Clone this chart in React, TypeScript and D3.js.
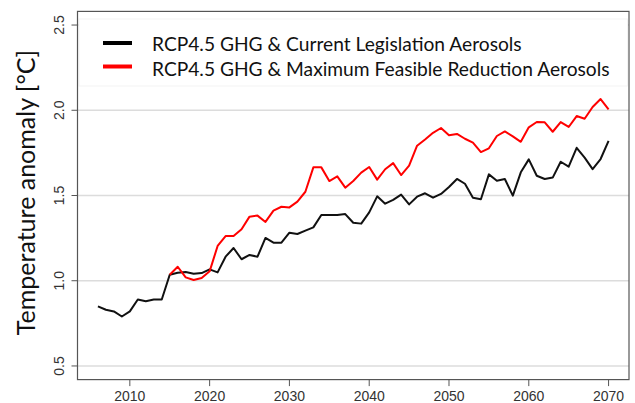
import React from 'react';
import * as d3 from 'd3';

const years = d3.range(2006, 2071);
const currentLegislation = [
  0.85, 0.83, 0.82, 0.79, 0.82, 0.89, 0.88, 0.89, 0.89, 1.035,
  1.047, 1.051, 1.041, 1.045, 1.067, 1.049, 1.141, 1.192, 1.126, 1.151,
  1.141, 1.251, 1.223, 1.223, 1.282, 1.274, 1.294, 1.313, 1.386, 1.385,
  1.386, 1.391, 1.34, 1.335, 1.401, 1.495, 1.452, 1.474, 1.505, 1.448,
  1.493, 1.513, 1.487, 1.509, 1.55, 1.597, 1.569, 1.487, 1.478, 1.624,
  1.587, 1.597, 1.499, 1.636, 1.712, 1.616, 1.597, 1.605, 1.698, 1.669,
  1.78, 1.722, 1.655, 1.714, 1.82,
];
const mfrStart = 2015;
const maxFeasible = [
  1.035, 1.082, 1.02, 1.004, 1.016, 1.055, 1.204, 1.262, 1.262, 1.302,
  1.376, 1.382, 1.345, 1.411, 1.434, 1.43, 1.464, 1.522, 1.665, 1.665,
  1.585, 1.612, 1.546, 1.585, 1.634, 1.667, 1.593, 1.654, 1.69, 1.62,
  1.675, 1.792, 1.829, 1.868, 1.896, 1.853, 1.861, 1.833, 1.81, 1.755,
  1.777, 1.849, 1.876, 1.847, 1.815, 1.9, 1.931, 1.929, 1.874, 1.931,
  1.902, 1.966, 1.95, 2.019, 2.066, 2.005,
];
const xTicks = [2010, 2020, 2030, 2040, 2050, 2060, 2070];
const yTicks = [0.5, 1.0, 1.5, 2.0, 2.5];
const legendLabels = [
  'RCP4.5 GHG & Current Legislation Aerosols',
  'RCP4.5 GHG & Maximum Feasible Reduction Aerosols',
];
const legendColors = ['#000000', '#ff0000'];

const W = 635;
const H = 403;
const box = { left: 77.5, right: 629, top: 11.4, bottom: 379.6 };

const App: React.FC = () => {
  // R-style 4% padding on both axes
  const x = d3.scaleLinear().domain([2003.44, 2072.56]).range([box.left, box.right]);
  const y = d3.scaleLinear().domain([0.42, 2.58]).range([box.bottom, box.top]);

  const line = d3
    .line<[number, number]>()
    .x((d) => x(d[0]))
    .y((d) => y(d[1]));

  const black: [number, number][] = years.map((yr, i) => [yr, currentLegislation[i]]);
  const red: [number, number][] = maxFeasible.map((v, i) => [mfrStart + i, v]);

  const tickFont = '"Liberation Sans", Arial, sans-serif';
  const textFont = 'Lato, "Open Sans", sans-serif';

  return (
    <svg
      width={W}
      height={H}
      style={{ position: 'absolute', left: 0, top: 0, background: '#fff' }}
    >
      {/* grid */}
      {yTicks.map((t) => (
        <line
          key={'g' + t}
          x1={box.left}
          x2={box.right}
          y1={y(t)}
          y2={y(t)}
          stroke="#dcdcdc"
          strokeWidth={1.5}
        />
      ))}

      {/* legend panel */}
      <rect x={box.left + 1.5} y={19} width={box.right - box.left - 3} height={67} fill="#fff" stroke="#f3f3f3" />
      {legendLabels.map((lab, i) => (
        <g key={lab}>
          <line x1={103} x2={132} y1={43 + i * 23.5} y2={43 + i * 23.5} stroke={legendColors[i]} strokeWidth={4} />
          <text x={152} y={51 + i * 24.5} fontFamily={textFont} fontSize={19.2} fill="#111">
            {lab}
          </text>
        </g>
      ))}

      {/* series */}
      <path d={line(black) || ''} fill="none" stroke="#111" strokeWidth={2} strokeLinejoin="round" />
      <path d={line(red) || ''} fill="none" stroke="#ff0000" strokeWidth={2} strokeLinejoin="round" />

      {/* box */}
      <rect
        x={box.left}
        y={box.top}
        width={box.right - box.left}
        height={box.bottom - box.top}
        fill="none"
        stroke="#555"
        strokeWidth={1.2}
      />

      {/* x axis */}
      {xTicks.map((t) => (
        <g key={'x' + t}>
          <line x1={x(t)} x2={x(t)} y1={box.bottom} y2={box.bottom + 6.5} stroke="#555" strokeWidth={1} />
          <text x={x(t)} y={401} textAnchor="middle" fontFamily={tickFont} fontSize={14} fill="#333">
            {t}
          </text>
        </g>
      ))}

      {/* y axis */}
      {yTicks.map((t) => (
        <g key={'y' + t}>
          <line x1={box.left - 6} x2={box.left} y1={y(t)} y2={y(t)} stroke="#555" strokeWidth={1} />
          <text
            transform={`translate(63.5,${y(t)}) rotate(-90)`}
            textAnchor="middle"
            fontFamily={tickFont}
            fontSize={14}
            fill="#333"
          >
            {t.toFixed(1)}
          </text>
        </g>
      ))}

      <text
        transform={`translate(35,${(box.top + box.bottom) / 2 - 3}) rotate(-90)`}
        textAnchor="middle"
        fontFamily={textFont}
        fontSize={25}
        fill="#111"
      >
        Temperature anomaly [°C]
      </text>
    </svg>
  );
};

export default App;
